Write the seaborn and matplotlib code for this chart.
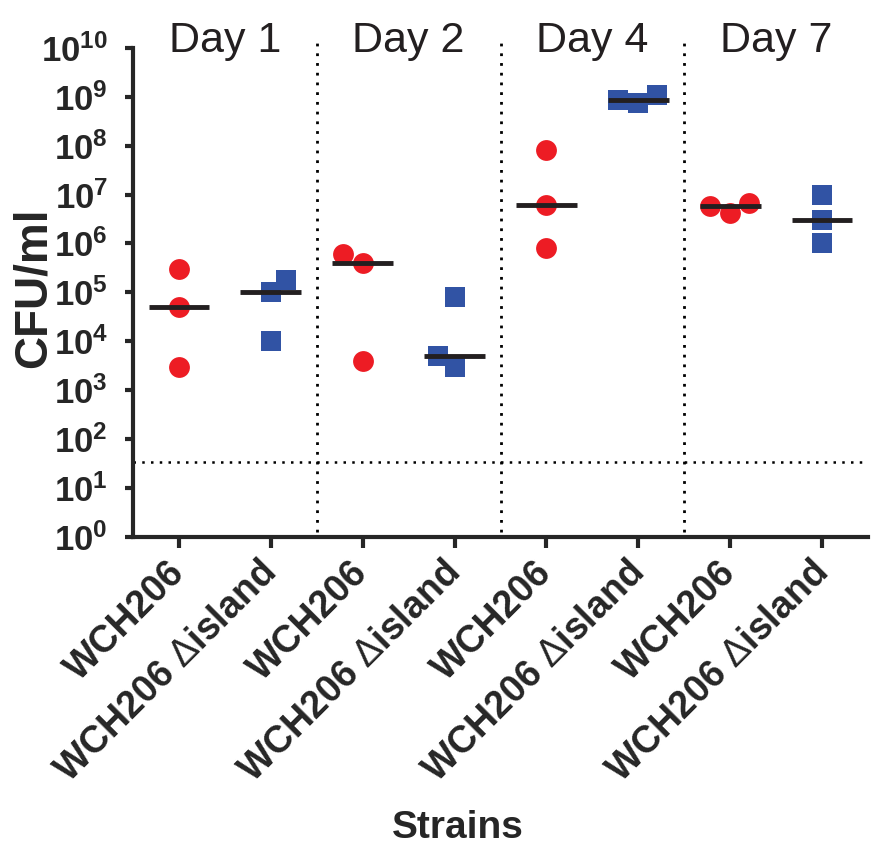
import numpy as np
import pandas as pd
import matplotlib
matplotlib.use('Agg')
import matplotlib.pyplot as plt
import seaborn as sns

# 数据
days = ['Day 1', 'Day 2', 'Day 4', 'Day 7']
strains = ['WCH206', 'WCH206 $\\Delta$island']
wt_cfu = [[3e5, 5e4, 3e3], [6e5, 4e5, 4e3], [8e7, 6e6, 8e5], [6.8e6, 4.2e6, 5.9e6]]
ko_cfu = [[1.8e5, 1e5, 1e4], [8e4, 5e3, 3e3], [1.1e9, 7.6e8, 8.7e8], [1e7, 3e6, 1e6]]
detection_limit = 34

sns.set_style('ticks')
plt.rcParams['font.family'] = ['Liberation Sans', 'DejaVu Sans']
plt.rcParams['mathtext.fontset'] = 'custom'
plt.rcParams['mathtext.rm'] = 'Liberation Sans'
plt.rcParams['mathtext.bf'] = 'Liberation Sans:bold'

red = '#ED1C24'
blue = '#3153A4'

# 整理成长表
rows = []
order = []
for d, day in enumerate(days):
    for s, strain in enumerate(strains):
        key = day + '|' + strain
        order.append(key)
        vals = wt_cfu[d] if s == 0 else ko_cfu[d]
        for v in vals:
            rows.append({'group': key, 'strain': strain, 'cfu': v})
df = pd.DataFrame(rows)

fig = plt.figure(figsize=(8.76, 8.46), dpi=100)
ax = fig.add_axes([0.1518, 0.3652, 0.8391, 0.5899])
ax.set_yscale('log')

sns.swarmplot(data=df[df['strain'] == strains[0]], x='group', y='cfu', order=order,
              color=red, marker='o', size=15, linewidth=0, ax=ax, zorder=3)
sns.swarmplot(data=df[df['strain'] == strains[1]], x='group', y='cfu', order=order,
              color=blue, marker='s', size=14, linewidth=0, ax=ax, zorder=3)

# 中位数横线
sns.boxplot(data=df, x='group', y='cfu', order=order, width=0.66,
            showbox=False, showcaps=False, showfliers=False,
            whiskerprops={'visible': False},
            medianprops={'color': '#231F20', 'linewidth': 3.5, 'zorder': 4},
            ax=ax)

ax.set_xlim(-0.5, 7.5)
ax.set_ylim(1, 10 ** 10.2)
ax.set_yticks([10.0 ** i for i in range(11)])
ax.yaxis.set_minor_locator(matplotlib.ticker.NullLocator())

# 虚线分隔
for xv in [1.5, 3.5, 5.5]:
    ax.axvline(xv, ymin=0.01, color='black', lw=2, linestyle=(0, (1, 2.5)), zorder=1)
ax.axhline(detection_limit, color='black', lw=1.8, linestyle=(0, (1, 2.5)), zorder=1, clip_on=False)

for i, day in enumerate(days):
    ax.text(2 * i + 0.5, 10 ** 9.92, day, ha='center', va='baseline', fontsize=31,
            color='#231F20')

sns.despine(ax=ax)
ax.spines['left'].set_bounds(1, 1e10)
ax.spines['left'].set_linewidth(3)
ax.spines['bottom'].set_linewidth(3)
ax.tick_params(axis='y', length=6, width=3, pad=12, labelsize=25)
ax.tick_params(axis='x', length=8, width=3, pad=14, labelsize=27)
for lab in ax.get_yticklabels():
    lab.set_fontweight('bold')

ax.set_xticks(range(len(order)))
ax.set_xticklabels([s for _ in days for s in strains], rotation=45, ha='right',
                   va='center', rotation_mode='anchor', fontweight='bold')

ax.set_xlabel('Strains', fontsize=28, fontweight='bold')
ax.xaxis.set_label_coords(0.442, -0.547)
ax.set_ylabel('CFU/ml', fontsize=33, fontweight='bold')
ax.yaxis.set_label_coords(-0.105, 0.499)

plt.savefig('out.png', dpi=100)
